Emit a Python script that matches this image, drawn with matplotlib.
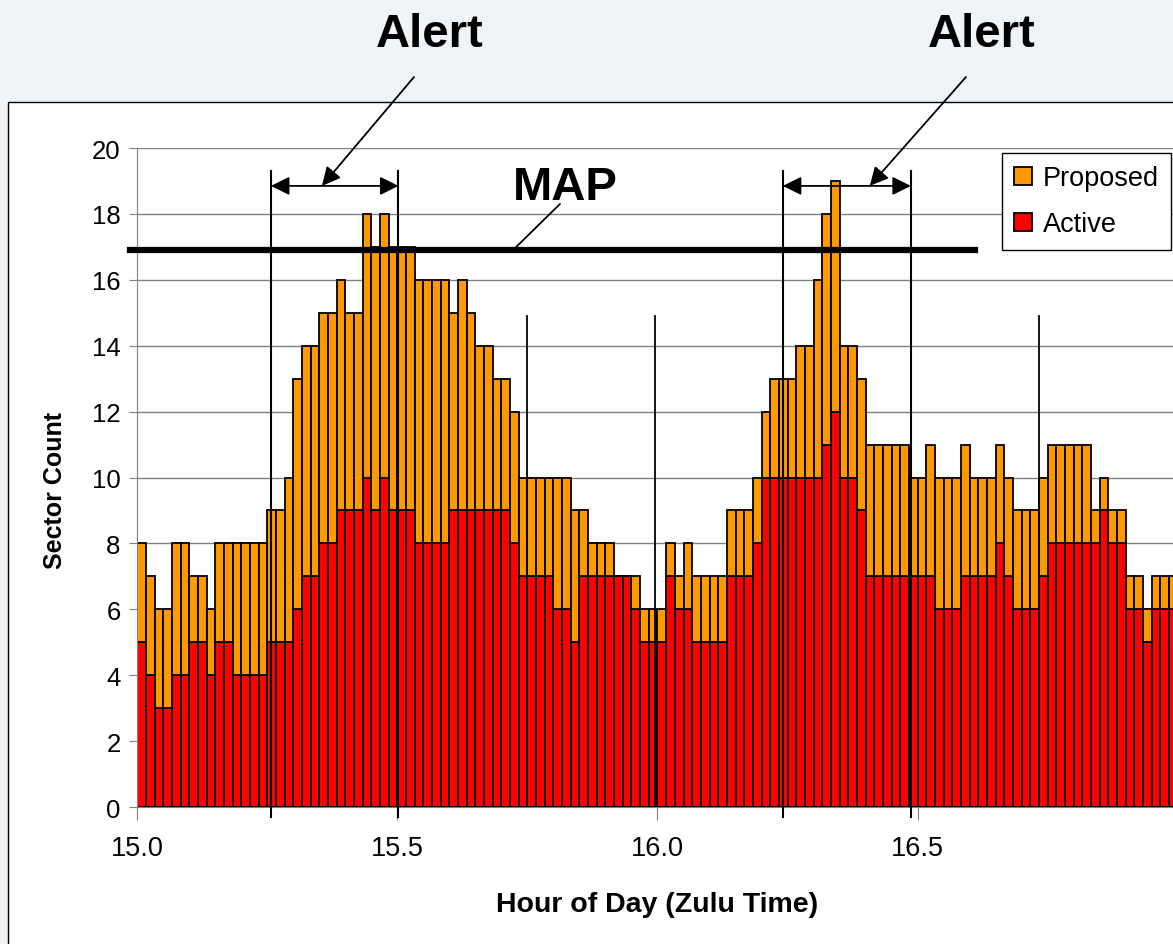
import matplotlib.pyplot as plt
import numpy as np
from matplotlib.patches import Rectangle

plt.rcParams['font.family'] = ['Liberation Sans', 'DejaVu Sans']

# sector count for every minute, 15:00 - 17:00
total = [8, 7, 6, 6, 8, 8, 7, 7, 6, 8,
         8, 8, 8, 8, 8, 9, 9, 10, 13, 14,
         14, 15, 15, 16, 15, 15, 18, 17, 18, 17,
         17, 17, 16, 16, 16, 16, 15, 16, 15, 14,
         14, 13, 13, 12, 10, 10, 10, 10, 10, 10,
         9, 9, 8, 8, 8, 7, 7, 7, 6, 6,
         6, 8, 7, 8, 7, 7, 7, 7, 9, 9,
         9, 10, 12, 13, 13, 13, 14, 14, 16, 18,
         19, 14, 14, 13, 11, 11, 11, 11, 11, 10,
         10, 11, 10, 10, 10, 11, 10, 10, 10, 11,
         10, 9, 9, 9, 10, 11, 11, 11, 11, 11,
         9, 10, 9, 9, 7, 7, 6, 7, 7, 7]
active = [5, 4, 3, 3, 4, 4, 5, 5, 4, 5,
          5, 4, 4, 4, 4, 5, 5, 5, 6, 7,
          7, 8, 8, 9, 9, 9, 10, 9, 10, 9,
          9, 9, 8, 8, 8, 8, 9, 9, 9, 9,
          9, 9, 9, 8, 7, 7, 7, 7, 6, 6,
          5, 7, 7, 7, 7, 7, 7, 6, 5, 5,
          5, 7, 6, 6, 5, 5, 5, 5, 7, 7,
          7, 8, 10, 10, 10, 10, 10, 10, 10, 11,
          12, 10, 10, 9, 7, 7, 7, 7, 7, 7,
          7, 7, 6, 6, 6, 7, 7, 7, 7, 8,
          7, 6, 6, 6, 7, 8, 8, 8, 8, 8,
          8, 9, 8, 8, 6, 6, 5, 6, 6, 6]
map_value = 16.9
alert_windows = [(15.257, 15.502), (16.241, 16.487)]
quarter_marks = [15.749, 15.995, 16.733]
xtick_labels = ['15.0', '15.5', '16.0', '16.5']

hours = 15 + np.arange(len(total)) / 60
active = np.array(active)
proposed = np.array(total) - active

fig = plt.figure(figsize=(11.73, 9.45), dpi=100, facecolor='#f1f4f7')
fig.patches.append(Rectangle((8 / 1173, -0.01), 1.1, 842 / 945 + 0.01,
                             transform=fig.transFigure, facecolor='white',
                             edgecolor='black', lw=1, zorder=-1))

ax = fig.add_axes([0.11705, 0.14497, 0.93129, 0.69735])
b1 = ax.bar(hours, active, width=1 / 60, align='edge', color='#ff0000',
            edgecolor='black', lw=1.3)
b2 = ax.bar(hours, proposed, bottom=active, width=1 / 60, align='edge',
            color='#ff9900', edgecolor='black', lw=1.3)

ax.set_xlim(15, 17.1)
ax.set_ylim(0, 20)
ax.set_yticks(range(0, 21, 2))
ax.set_xticks([float(t) for t in xtick_labels])
ax.set_xticklabels(xtick_labels)
ax.tick_params(axis='y', labelsize=18.5, length=6, color='#808080', pad=6)
ax.tick_params(axis='x', labelsize=19.5, length=9, color='#808080', pad=11)
ax.grid(axis='y', color='#808080', lw=1)
ax.set_axisbelow(True)
for s in ['top', 'right']:
    ax.spines[s].set_visible(False)
for s in ['left', 'bottom']:
    ax.spines[s].set_color('#808080')

# MAP line
ax.plot([14.986, 16.61], [map_value, map_value], color='black', lw=4.5,
        clip_on=False, zorder=5)

# alert windows
for x0, x1 in alert_windows:
    for x in (x0, x1):
        ax.plot([x, x], [-0.3, 19.3], color='black', lw=1.5, clip_on=False, zorder=6)
    ax.annotate('', xy=(x0, 18.85), xytext=(x1, 18.85),
                arrowprops=dict(arrowstyle='<|-|>', color='black', lw=1.3,
                                mutation_scale=28, shrinkA=0, shrinkB=0))
for x in quarter_marks:
    ax.plot([x, x], [0, 14.9], color='black', lw=1.3, zorder=6)

# labels on top
for tx, tip in [(430, 15.355), (982, 16.408)]:
    fig.text(tx, 898, 'Alert', transform=None, fontsize=34, fontweight='bold',
             ha='center', va='baseline')
    ax.annotate('', xy=(tip, 18.85), xytext=(tx - 16, 867), textcoords='figure pixels',
                arrowprops=dict(arrowstyle='-|>', color='black', lw=1.3,
                                mutation_scale=28, shrinkA=0, shrinkB=0),
                annotation_clip=False)
fig.text(565, 745, 'MAP', transform=None, fontsize=34, fontweight='bold',
         ha='center', va='baseline')
ax.annotate('', xy=(15.722, map_value), xytext=(560, 740), textcoords='figure pixels',
            arrowprops=dict(arrowstyle='-', color='black', lw=1.3,
                            shrinkA=0, shrinkB=0),
            annotation_clip=False)

fig.text(657, 40, 'Hour of Day (Zulu Time)', transform=None, fontsize=20.5,
         fontweight='bold', ha='center', va='center')
fig.text(55, 454, 'Sector Count', transform=None, fontsize=18,
         fontweight='bold', ha='center', va='center', rotation=90)

leg = ax.legend([b2, b1], ['Proposed', 'Active'], loc='upper left',
                bbox_to_anchor=(1002 / 1173, 791 / 945), bbox_transform=fig.transFigure,
                fancybox=False, edgecolor='black', framealpha=1, fontsize=19.5,
                handlelength=0.65, handleheight=0.65, handletextpad=0.4,
                borderpad=0.45, labelspacing=0.75, borderaxespad=0)
leg.get_frame().set_linewidth(1)
leg.set_zorder(10)

fig.savefig('out.png', dpi=100, facecolor=fig.get_facecolor())
